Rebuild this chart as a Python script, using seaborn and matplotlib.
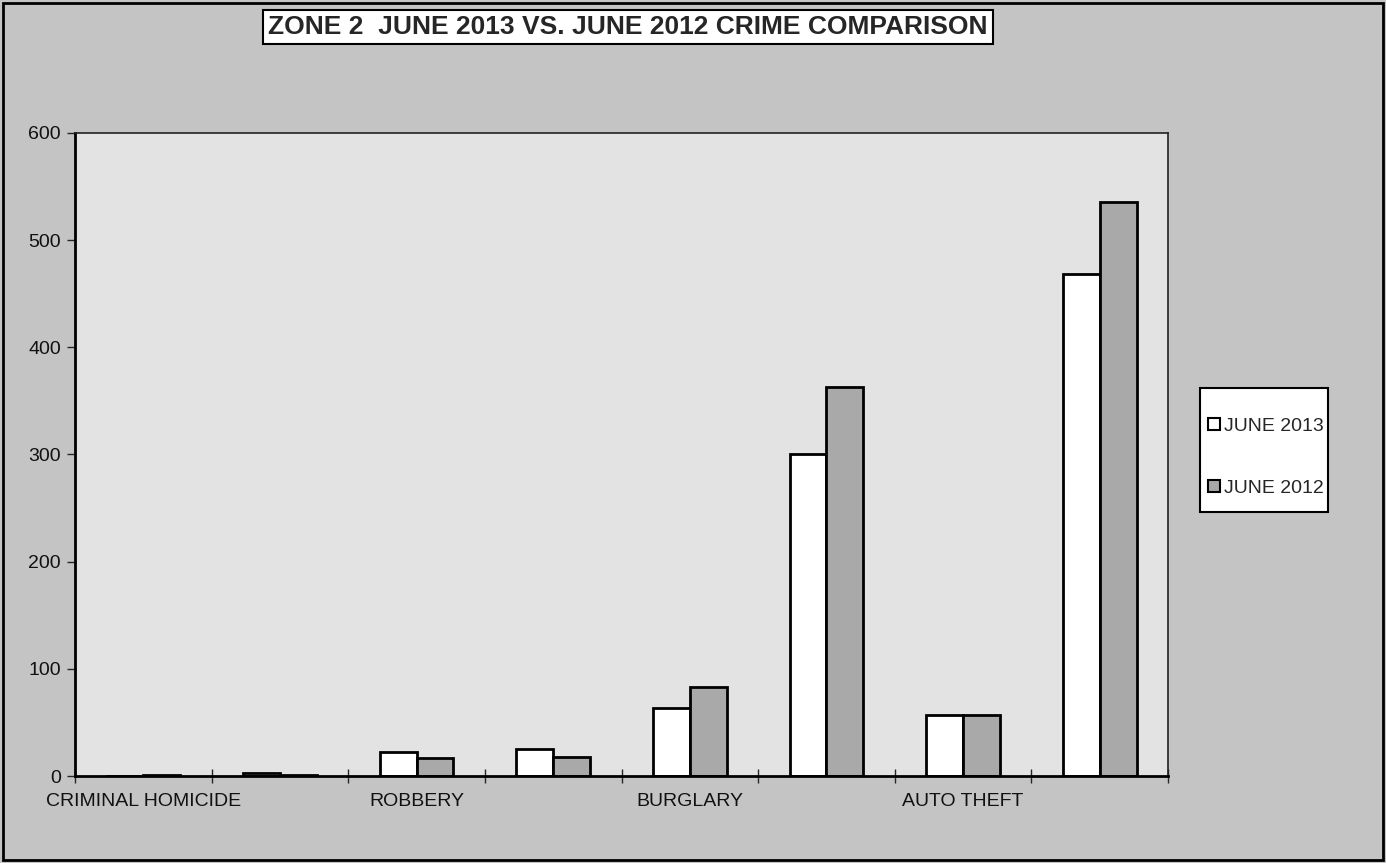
import seaborn as sns
import numpy as np
import pandas as pd
import matplotlib as mpl
import matplotlib.pyplot as plt
from matplotlib.patches import Rectangle

# crime categories (Excel hides every other label)
categories = ["CRIMINAL HOMICIDE", "RAPE", "ROBBERY", "AGGRAVATED ASSAULT",
              "BURGLARY", "LARCENY", "AUTO THEFT", "TOTAL"]
shown = [True, False, True, False, True, False, True, False]
june_2013 = [0, 3, 22, 25, 63, 300, 57, 468]
june_2012 = [1, 1, 17, 18, 83, 363, 57, 536]
series = ["JUNE 2013", "JUNE 2012"]
yticks = [0, 100, 200, 300, 400, 500, 600]

df = pd.DataFrame({
    "crime": categories * 2,
    "count": june_2013 + june_2012,
    "month": [series[0]] * len(categories) + [series[1]] * len(categories),
})

sns.set_style("white")
plt.rcParams['font.family'] = ['Liberation Sans', 'DejaVu Sans']

fig = plt.figure(figsize=(13.86, 8.63), dpi=100, facecolor="#c4c4c4")
ax = fig.add_axes([75 / 1386, 87 / 863, 1093 / 1386, 643 / 863])
ax.set_facecolor("#e3e3e3")

sns.barplot(data=df, x="crime", y="count", hue="month", hue_order=series,
            order=categories, palette=["white", "#a9a9a9"], width=0.54,
            edgecolor="black", linewidth=2, saturation=1, ax=ax)

ax.set_xlim(-0.5, len(categories) - 0.5)
ax.set_ylim(0, 600)
ax.set_yticks(yticks)
ax.set_xlabel("")
ax.set_ylabel("")

# tick marks at category boundaries, labels at centres
ax.set_xticks(np.arange(len(categories) + 1) - 0.5)
ax.set_xticklabels([])
ax.set_xticks(np.arange(len(categories)), minor=True)
ax.set_xticklabels([c if s else "" for c, s in zip(categories, shown)],
                   minor=True, fontsize=14, color="#111111")
ax.tick_params(axis="x", which="major", direction="inout", length=10,
               width=1, bottom=True)
ax.tick_params(axis="x", which="minor", length=0, pad=12)
ax.tick_params(axis="y", direction="out", length=6, width=1, left=True,
               labelsize=14, labelcolor="#111111", pad=4)

for side in ["left", "bottom"]:
    ax.spines[side].set_linewidth(2)
    ax.spines[side].set_color("black")
for side in ["top", "right"]:
    ax.spines[side].set_linewidth(1.2)
    ax.spines[side].set_color("#222222")

# legend box drawn separately (Excel pads more above/below than at the sides)
ax.add_patch(Rectangle((1200 / 1386, 351 / 863), 128 / 1386, 124 / 863,
                       transform=fig.transFigure, facecolor="white",
                       edgecolor="black", linewidth=1.5, zorder=4,
                       clip_on=False))
leg = ax.legend(loc="center", bbox_to_anchor=(1266 / 1386, 405.5 / 863),
                bbox_transform=fig.transFigure, frameon=False,
                fontsize=14, handlelength=0.6, handleheight=0.6,
                handletextpad=0.25, labelspacing=2.3, borderpad=0,
                borderaxespad=0)
leg.set_zorder(6)
for h in leg.legend_handles:
    h.set_linewidth(1.5)

fig.text(628 / 1386, 836 / 863, "ZONE 2  JUNE 2013 VS. JUNE 2012 CRIME COMPARISON",
         ha="center", va="center", fontsize=19, fontweight="bold",
         bbox=dict(facecolor="white", edgecolor="black", linewidth=1.5,
                   boxstyle="square,pad=0.2"))

fig.patches.append(Rectangle((0.002, 0.003), 0.996, 0.994, transform=fig.transFigure,
                             fill=False, edgecolor="black", linewidth=2))

fig.savefig("out.png", facecolor=fig.get_facecolor())
